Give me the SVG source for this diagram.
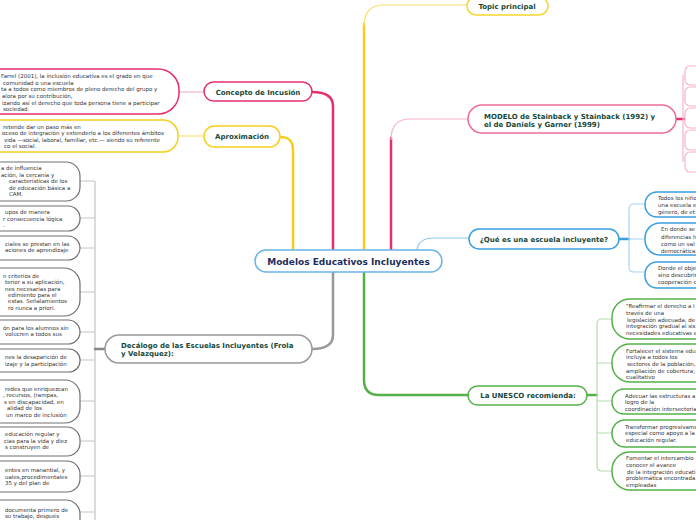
<svg xmlns="http://www.w3.org/2000/svg" width="696" height="520" viewBox="0 0 696 520">
<style>
.t{font-family:"DejaVu Sans",Verdana,sans-serif;font-weight:bold;font-size:7px;fill:#17483a}
.c{font-family:"DejaVu Sans",Verdana,sans-serif;font-size:9px;font-weight:bold;fill:#1b2e5e}
.s{font-family:"DejaVu Sans",Verdana,sans-serif;font-size:5.5px;fill:#333}
.n{fill:#fff;stroke-width:1.5}
.k{fill:none;stroke-width:2.5;stroke-linecap:round}
.l{fill:none;stroke-width:1.2}
</style>
<rect width="696" height="520" fill="#fff"/>
<g id="connectors">
  <path class="k" d="M280,137 C288,137 293,140 293,150 V249" stroke="#f5cf1b"/>
  <path class="k" d="M312,92 C325,92 333,96 333,106 V249" stroke="#e5306a"/>
  <path class="k" d="M364,249 V24" stroke="#f5cf1b"/>
  <path class="l" d="M364,26 Q364,5 384,5 H467" stroke="#f9df6e" stroke-width="1.8"/>
  <path class="k" d="M391,249 V138" stroke="#e5306a"/>
  <path class="l" d="M391,140 Q391,119 410,119 H469" stroke="#f6b4c8" stroke-width="1.8"/>
  <path class="l" d="M417,250 C418,242 424,238 434,238 H469" stroke="#8ccbf0" stroke-width="1.8"/>
  <path class="k" d="M312,349 C323,349 333,346 333,335 V272" stroke="#999"/>
  <path class="k" d="M364,272 V380 Q364,395 379,395 H468" stroke="#56b04a"/>
  <path class="l" d="M204,92 H179" stroke="#f6b4c8" stroke-width="1.8"/>
  <path class="l" d="M204,136 H178" stroke="#f8e27c" stroke-width="1.8"/>
  <path class="k" d="M676,119 H684" stroke="#e5306a" stroke-width="2"/>
  <path class="l" d="M683,75 V162" stroke="#f6b4c8"/>
  <path class="k" d="M619,239 H629" stroke="#3a9ee0" stroke-width="2"/>
  <path class="l" d="M645,204 H634 Q629,204 629,209 V267 Q629,272 634,272 H645 M629,239 H645" stroke="#a9d6f3"/>
  <path class="k" d="M587,395 H597" stroke="#56b04a" stroke-width="2"/>
  <path class="l" d="M612,319 H602 Q597,319 597,324 V466 Q597,471 602,471 H612 M597,363 H612 M597,401 H612 M597,433 H612" stroke="#b5dcae"/>
  <path class="l" d="M95,181 V520 M80,181 H95 M80,218 H95 M80,248 H95 M80,292 H95 M80,332 H95 M80,360 H95 M80,401 H95 M80,441 H95 M80,476 H95 M80,512 H95" stroke="#c4c4c4"/>
  <path class="k" d="M95,349 H105" stroke="#888" stroke-width="2"/>
</g>
<g id="central">
  <rect class="n" x="255" y="250" width="187" height="22" rx="11" stroke="#69b3e7"/>
  <text class="c" x="348.5" y="264.5" text-anchor="middle">Modelos Educativos Incluyentes</text>
</g>
<g id="topic">
  <rect class="n" x="467" y="-3" width="81" height="18" rx="9" stroke="#f7d62f"/>
  <text class="t" x="507" y="9" text-anchor="middle">Topic principal</text>
</g>
<g id="concepto">
  <rect class="n" x="204" y="82" width="108" height="19" rx="9.5" stroke="#e5306a"/>
  <text class="t" x="258" y="94.5" text-anchor="middle">Concepto de Incusión</text>
</g>
<g id="concepto-texto">
  <rect class="n" x="-200" y="69" width="379" height="45" rx="21" stroke="#e5306a"/>
  <text class="s" x="1" y="77.5">Farrel (2001), la inclusión educativa es el grado en que</text>
  <text class="s" x="3" y="84.5">comunidad o una escuela</text>
  <text class="s" x="1" y="91">ta a todos como miembros de pleno derecho del grupo y</text>
  <text class="s" x="2" y="97.5">alora por su contribución,</text>
  <text class="s" x="2" y="104.5">izando así el derecho que toda persona tiene a participar</text>
  <text class="s" x="3" y="111">sociedad.</text>
</g>
<g id="aproximacion">
  <rect class="n" x="204" y="126" width="76" height="21" rx="10.5" stroke="#f5cf1b"/>
  <text class="t" x="242" y="139" text-anchor="middle">Aproximación</text>
</g>
<g id="aproximacion-texto">
  <rect class="n" x="-200" y="120" width="378" height="32" rx="15" stroke="#f5cf1b"/>
  <text class="s" x="3" y="128.5">retende dar un paso más en</text>
  <text class="s" x="2" y="135">oceso de integración y extenderlo a los diferentes ámbitos</text>
  <text class="s" x="4" y="142">vida —social, laboral, familiar, etc.— siendo su referente</text>
  <text class="s" x="4" y="148">co el social.</text>
</g>
<g id="modelo">
  <rect class="n" x="468" y="105" width="208" height="28" rx="14" stroke="#ee6d96"/>
  <text class="t" x="484" y="118.5">MODELO de Stainback y Stainback (1992) y</text>
  <text class="t" x="484" y="126.5">el de Daniels y Garner (1999)</text>
</g>
<g id="modelo-hijos" fill="#fff" stroke="#f6b4c8" stroke-width="1.2">
  <rect x="685" y="66" width="60" height="19" rx="5"/>
  <rect x="685" y="87" width="60" height="19" rx="5"/>
  <rect x="685" y="108" width="60" height="20" rx="5"/>
  <rect x="685" y="130" width="60" height="20" rx="5"/>
  <rect x="685" y="152" width="60" height="20" rx="5"/>
</g>
<g id="que-es">
  <rect class="n" x="469" y="229" width="150" height="20" rx="10" stroke="#3a9ee0"/>
  <text class="t" x="544" y="241.5" text-anchor="middle">¿Qué es una escuela incluyente?</text>
</g>
<g id="que-1">
  <rect class="n" x="645" y="192" width="120" height="25" rx="12" stroke="#3a9ee0"/>
  <text class="s" x="658" y="200">Todos los niño</text>
  <text class="s" x="658" y="207">una escuela e</text>
  <text class="s" x="658" y="214">género, de et</text>
</g>
<g id="que-2">
  <rect class="n" x="645" y="223" width="120" height="32" rx="15" stroke="#3a9ee0"/>
  <text class="s" x="661" y="231">En donde se</text>
  <text class="s" x="661" y="238.5">diferencias h</text>
  <text class="s" x="661" y="246">como un val</text>
  <text class="s" x="661" y="253">democrática.</text>
</g>
<g id="que-3">
  <rect class="n" x="645" y="262" width="120" height="26" rx="12" stroke="#3a9ee0"/>
  <text class="s" x="658" y="270">Donde el obje</text>
  <text class="s" x="658" y="277">sino descubrir</text>
  <text class="s" x="658" y="284">cooperación c</text>
</g>
<g id="unesco">
  <rect class="n" x="468" y="386" width="119" height="19" rx="9.5" stroke="#56b04a"/>
  <text class="t" x="528" y="398" text-anchor="middle">La UNESCO recomienda:</text>
</g>
<g id="unesco-1">
  <rect class="n" x="612" y="299" width="140" height="40" rx="18" stroke="#56b04a"/>
  <text class="s" x="626" y="308">"Reafirmar el derecho a l</text>
  <text class="s" x="626" y="314.5">través de una</text>
  <text class="s" x="627" y="321.5"> legislación adecuada, de</text>
  <text class="s" x="626" y="328">integración gradual al sis</text>
  <text class="s" x="626" y="335">necesidades educativas e</text>
</g>
<g id="unesco-2">
  <rect class="n" x="612" y="344" width="140" height="38" rx="18" stroke="#56b04a"/>
  <text class="s" x="626" y="352.5">Fortalecer el sistema edu</text>
  <text class="s" x="626" y="359">incluya a todos los</text>
  <text class="s" x="627" y="365.5"> sectores de la población,</text>
  <text class="s" x="626" y="372.5">ampliación de cobertura;</text>
  <text class="s" x="626" y="379">cualitativo</text>
</g>
<g id="unesco-3">
  <rect class="n" x="612" y="389" width="140" height="25" rx="12" stroke="#56b04a"/>
  <text class="s" x="625" y="397.5">Adecuar las estructuras a</text>
  <text class="s" x="625" y="404">logro de la</text>
  <text class="s" x="625" y="410.5">coordinación intersectoria</text>
</g>
<g id="unesco-4">
  <rect class="n" x="612" y="420" width="140" height="27" rx="13" stroke="#56b04a"/>
  <text class="s" x="625" y="428.5">Transformar progresivame</text>
  <text class="s" x="625" y="435">especial como apoyo a la</text>
  <text class="s" x="626" y="441.5"> educación regular.</text>
</g>
<g id="unesco-5">
  <rect class="n" x="612" y="452" width="140" height="38" rx="18" stroke="#56b04a"/>
  <text class="s" x="626" y="460">Fomentar el intercambio</text>
  <text class="s" x="626" y="466.5">conocer el avance</text>
  <text class="s" x="627" y="473.5"> de la integración educati</text>
  <text class="s" x="626" y="480">problemática encontrada</text>
  <text class="s" x="626" y="487">empleadas</text>
</g>
<g id="decalogo">
  <rect class="n" x="105" y="335" width="207" height="28" rx="14" stroke="#999"/>
  <text class="t" x="121" y="347.5">Decálogo de las Escuelas Incluyentes (Frola</text>
  <text class="t" x="121" y="355.5">y Velazquez):</text>
</g>
<g id="decalogo-hijos" fill="#fff" stroke="#707070" stroke-width="1.2">
  <rect x="-200" y="162" width="280" height="39" rx="14"/>
  <rect x="-200" y="206" width="280" height="25" rx="12"/>
  <rect x="-200" y="236" width="280" height="24" rx="12"/>
  <rect x="-200" y="268" width="280" height="48" rx="16"/>
  <rect x="-200" y="320" width="280" height="24" rx="12"/>
  <rect x="-200" y="349" width="280" height="23" rx="11"/>
  <rect x="-200" y="380" width="280" height="43" rx="15"/>
  <rect x="-200" y="427" width="280" height="29" rx="13"/>
  <rect x="-200" y="461" width="280" height="31" rx="13"/>
  <rect x="-200" y="500" width="280" height="40" rx="14"/>
</g>
<g id="decalogo-textos">
  <text class="s" x="1" y="170">a de influencia</text>
  <text class="s" x="1" y="176.5">ación, la cercanía y</text>
  <text class="s" x="9" y="183">características de los</text>
  <text class="s" x="9" y="189.5">de educación básica a</text>
  <text class="s" x="9" y="196">CAM.</text>
  <text class="s" x="5" y="214">upos de manera</text>
  <text class="s" x="3" y="220.5">r consecuencia lógica</text>
  <text class="s" x="3" y="227">.</text>
  <text class="s" x="5" y="246">ciales se prestan en las</text>
  <text class="s" x="5" y="252">aciones de aprendizaje</text>
  <text class="s" x="3" y="278">n criterios de</text>
  <text class="s" x="5" y="284">terior a su aplicación,</text>
  <text class="s" x="5" y="290.5">nes necesarias para</text>
  <text class="s" x="8" y="297">edimiento para el</text>
  <text class="s" x="8" y="303">estas. Señalamientos</text>
  <text class="s" x="8" y="309.5">ro nunca a priori.</text>
  <text class="s" x="3" y="330">ón para los alumnos sin</text>
  <text class="s" x="5" y="336">volucren a todos sus</text>
  <text class="s" x="5" y="359">nes la desaparición de</text>
  <text class="s" x="5" y="365.5">izaje y la participación</text>
  <text class="s" x="5" y="391">redes que enriquezcan</text>
  <text class="s" x="3" y="397">, recursos, (rampas,</text>
  <text class="s" x="4" y="403.5">s en discapacidad, en</text>
  <text class="s" x="7" y="410">alidad de los</text>
  <text class="s" x="6" y="416.5">un marco de inclusión</text>
  <text class="s" x="5" y="436">educación regular y</text>
  <text class="s" x="4" y="442.5">cias para la vida y diez</text>
  <text class="s" x="5" y="449">s construyen de</text>
  <text class="s" x="5" y="472">entes en manantial, y</text>
  <text class="s" x="5" y="478.5">uales,procedimentales</text>
  <text class="s" x="5" y="485">35 y del plan de</text>
  <text class="s" x="5" y="511.5">documenta primero de</text>
  <text class="s" x="5" y="518">su trabajo, después</text>
</g>
</svg>
